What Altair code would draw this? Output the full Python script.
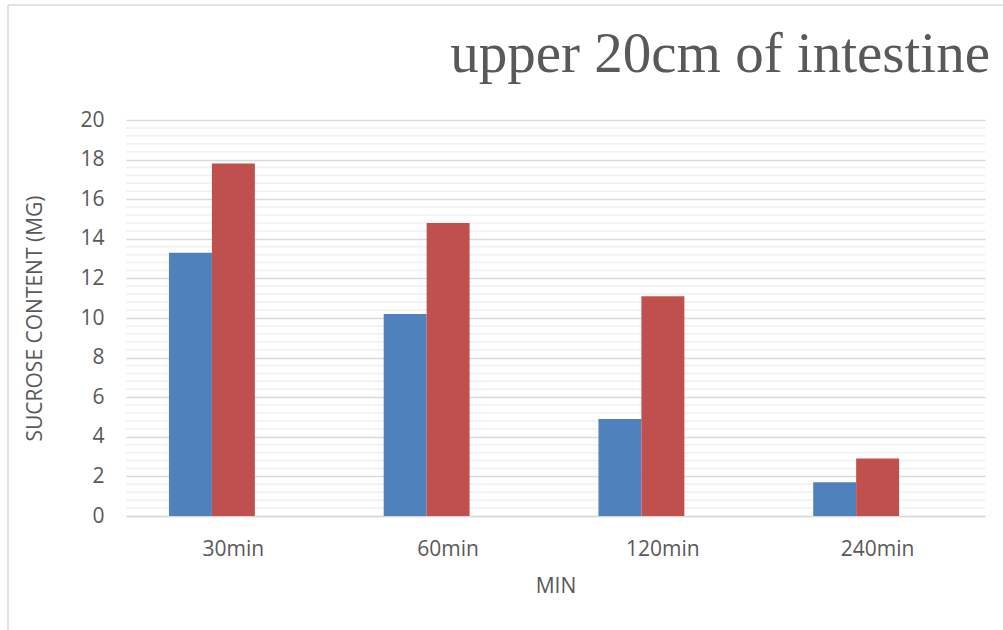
import altair as alt
import pandas as pd

# Sucrose content measured at each sampling time
categories = ["30min", "60min", "120min", "240min"]
series_names = ["Series1", "Series2", "Series3"]
series1 = [13.3, 10.2, 4.9, 1.7]
series2 = [17.8, 14.8, 11.1, 2.9]
series3 = [0, 0, 0, 0]
series_colors = ["#4f81bd", "#c0504d", "#9bbb59"]

chart_title = "upper 20cm of intestine"
x_title = "MIN"
y_title = "SUCROSE CONTENT (MG)"

# Axis tick positions
major_ticks = [0, 2, 4, 6, 8, 10, 12, 14, 16, 18, 20]
minor_ticks = [0.4, 0.8, 1.2, 1.6, 2.4, 2.8, 3.2, 3.6, 4.4, 4.8, 5.2, 5.6,
               6.4, 6.8, 7.2, 7.6, 8.4, 8.8, 9.2, 9.6, 10.4, 10.8, 11.2, 11.6,
               12.4, 12.8, 13.2, 13.6, 14.4, 14.8, 15.2, 15.6, 16.4, 16.8, 17.2, 17.6,
               18.4, 18.8, 19.2, 19.6]

rows = []
for name, vals in zip(series_names, [series1, series2, series3]):
    for cat, v in zip(categories, vals):
        rows.append({"time": cat, "series": name, "value": v})
df = pd.DataFrame(rows)

TEXT = "#595959"
SANS = "Open Sans"

y_scale = alt.Scale(domain=[0, 20], nice=False, zero=True)
y_axis = alt.Axis(
    title=y_title, values=major_ticks, ticks=False, domain=False,
    grid=True, gridColor="#d9d9d9", gridWidth=1.5,
    labelPadding=22, titlePadding=34,
)

minor_grid = alt.Chart(pd.DataFrame({"v": minor_ticks})).mark_rule(
    color="#f0f0f0", strokeWidth=1.5
).encode(y=alt.Y("v:Q", scale=y_scale, axis=y_axis, title=y_title))

bars = alt.Chart(df).mark_bar().encode(
    x=alt.X(
        "time:N",
        sort=categories,
        scale=alt.Scale(paddingInner=0.4, paddingOuter=0.2),
        axis=alt.Axis(
            title=x_title, labelAngle=0, ticks=False, domain=True,
            domainColor="#d9d9d9", domainWidth=1.5,
            labelPadding=22, titlePadding=16,
        ),
    ),
    xOffset=alt.XOffset("series:N", sort=series_names,
                        scale=alt.Scale(paddingInner=0, paddingOuter=0)),
    y=alt.Y("value:Q", scale=y_scale, axis=y_axis, title=y_title),
    color=alt.Color("series:N", sort=series_names,
                    scale=alt.Scale(domain=series_names, range=series_colors),
                    legend=None),
)

frame = alt.Chart(pd.DataFrame({"k": [0]}))
left_edge = frame.mark_rule(color="#d9d9d9", strokeWidth=1.5).encode(
    x=alt.value(-118), y=alt.value(-115), y2=alt.value(520)
)
top_edge = frame.mark_rule(color="#d9d9d9", strokeWidth=1.5).encode(
    x=alt.value(-118), x2=alt.value(890), y=alt.value(-115)
)
heading = frame.mark_text(
    font="Liberation Serif", fontSize=57, color=TEXT,
    align="right", baseline="alphabetic",
).encode(x=alt.value(864), y=alt.value(-48), text=alt.value(chart_title))

chart = alt.layer(minor_grid, bars, left_edge, top_edge, heading).properties(
    width=859,
    height=396,
    autosize=alt.AutoSizeParams(type="none"),
    padding={"left": 126, "top": 120, "right": 18, "bottom": 114},
    background="white",
).configure_view(stroke=None).configure_axis(
    labelFont=SANS, labelFontSize=21, labelColor=TEXT,
    titleFont=SANS, titleFontSize=21, titleFontWeight="normal", titleColor=TEXT,
)

chart.save("out.html", embed_options={"renderer": "svg", "actions": False})
